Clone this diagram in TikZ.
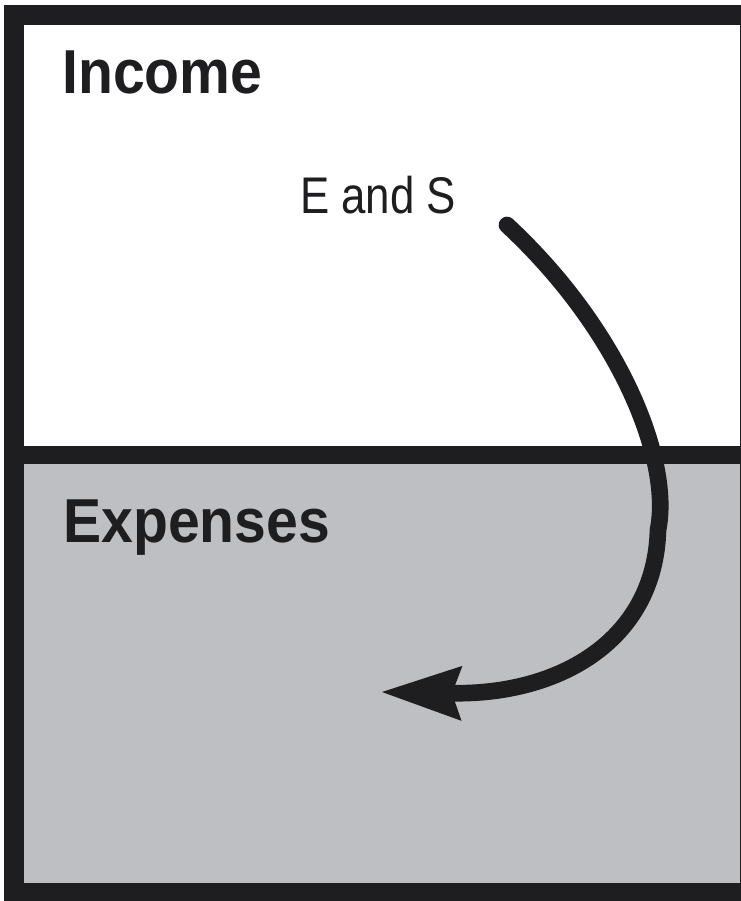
\documentclass[tikz,border=0pt]{standalone}
\usepackage{fontspec}
\setmainfont{Liberation Sans}
\newfontfamily\headfont[FakeStretch=0.92]{Liberation Sans}
\newfontfamily\notefont[FakeStretch=0.85]{Liberation Sans}
\usepackage{tikz}
\usetikzlibrary{arrows.meta}
\definecolor{framedark}{HTML}{1E1D1F}
\definecolor{expfill}{HTML}{BEBFC3}
\tikzset{
  boxframe/.style={draw=framedark, line width=0.6cm},
  divider/.style={draw=framedark, line width=0.54cm},
  head/.style={anchor=base west, inner sep=0pt, text=framedark, font=\headfont\bfseries\fontsize{53}{60}\selectfont},
  note/.style={anchor=base west, inner sep=0pt, text=framedark, font=\notefont\fontsize{44}{50}\selectfont},
  flow/.style={-{Stealth[length=2.4cm, width=1.65cm, inset=0.3cm, line width=0pt]}, line width=0.5cm, draw=framedark, line cap=round},
}
\begin{document}
\begin{tikzpicture}[x=0.03cm, y=-0.03cm]
  \useasboundingbox (0,0) rectangle (741,901);
  \fill[white] (0,0) rectangle (741,901);
  \fill[expfill] (24,455) rectangle (741,901);
  \draw[boxframe] (14,15) rectangle (750,893);
  \draw[divider] (14,455) -- (750,455);
  \node[head] (income) at (62,94) {Income};
  \node[head] (expenses) at (63,542) {Expenses};
  \node[note] (es) at (300,213) {E and S};
  \coordinate (flowstart) at (507,225);
  \coordinate (flowend) at (382,692);
  \draw[flow] (flowstart) .. controls (620,330) and (672,460) .. (658,530)
    .. controls (655,640) and (560,695) .. (flowend);
\end{tikzpicture}
\end{document}
